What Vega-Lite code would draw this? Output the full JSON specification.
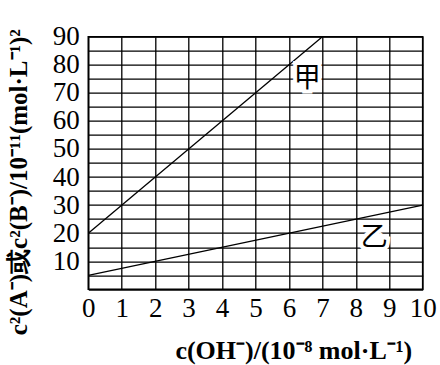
{
  "$schema": "https://vega.github.io/schema/vega-lite/v6.json",
  "autosize": "none",
  "width": 334.4,
  "height": 252.6,
  "padding": {"left": 88.3, "top": 36.7, "right": 17.3, "bottom": 75.7},
  "background": "white",
  "config": {
    "view": {"stroke": "black", "strokeWidth": 1.6},
    "axis": {
      "grid": true, "gridColor": "black", "gridWidth": 1.3, "gridOpacity": 1,
      "domain": false, "ticks": false, "tickSize": 0,
      "labelFont": "Liberation Serif", "labelFontSize": 27, "labelColor": "black",
      "titleFont": "Liberation Serif", "titleFontSize": 25, "titleColor": "black", "titleFontWeight": "bold"
    }
  },
  "datasets": {
    "lines": [
      {"series": "甲", "x": 0, "y": 20},
      {"series": "甲", "x": 7, "y": 90},
      {"series": "乙", "x": 0, "y": 5},
      {"series": "乙", "x": 10, "y": 30}
    ],
    "labels": [
      {"name": "甲", "x": 6.55, "y": 75},
      {"name": "乙", "x": 8.55, "y": 18.3}
    ]
  },
  "encoding": {
    "x": {
      "field": "x", "type": "quantitative",
      "scale": {"domain": [0, 10], "nice": false},
      "axis": {
        "values": [0, 1, 2, 3, 4, 5, 6, 7, 8, 9, 10],
        "labelPadding": 6,
        "labelFlush": false,
        "title": "c(OH⁻)/(10⁻⁸ mol·L⁻¹)",
        "titleX": 205, "titleY": 61, "titleBaseline": "middle", "titleAnchor": "middle", "titleAlign": "center", "titleFontSize": 26
      }
    },
    "y": {
      "field": "y", "type": "quantitative",
      "scale": {"domain": [0, 90], "nice": false},
      "axis": {
        "values": [0, 5, 10, 15, 20, 25, 30, 35, 40, 45, 50, 55, 60, 65, 70, 75, 80, 85, 90],
        "labelExpr": "datum.value % 10 == 0 && datum.value > 0 ? datum.label : ''",
        "labelPadding": 9,
        "labelFlush": false,
        "labelBaseline": "middle",
        "title": "c²(A⁻)或c²(B⁻)/10⁻¹¹(mol·L⁻¹)²",
        "titleX": -70, "titleY": 145, "titleAngle": -90, "titleBaseline": "middle", "titleAlign": "center", "titleFontSize": 25
      }
    }
  },
  "layer": [
    {
      "data": {"name": "lines"},
      "mark": {"type": "line", "color": "black", "strokeWidth": 1.3},
      "encoding": {"detail": {"field": "series"}}
    },
    {
      "data": {"name": "labels"},
      "mark": {"type": "text", "font": "Noto Sans CJK SC", "fontSize": 27, "stroke": "white", "strokeWidth": 8, "fill": "white", "baseline": "middle", "align": "center"},
      "encoding": {"text": {"field": "name"}}
    },
    {
      "data": {"name": "labels"},
      "mark": {"type": "text", "font": "Noto Sans CJK SC", "fontSize": 27, "color": "black", "baseline": "middle", "align": "center"},
      "encoding": {"text": {"field": "name"}}
    }
  ]
}
